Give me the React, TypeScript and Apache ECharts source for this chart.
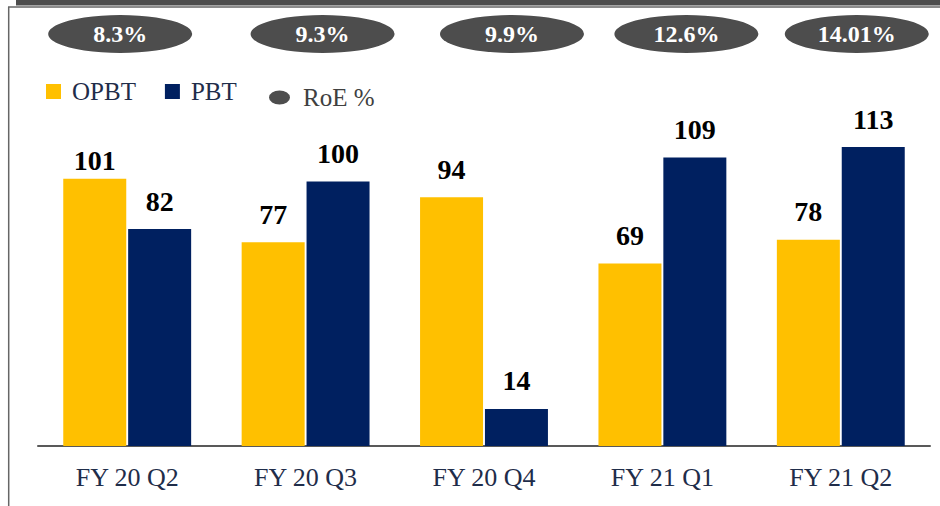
import React, { useEffect, useRef } from "react";
import * as echarts from "echarts";

const categories = ["FY 20 Q2", "FY 20 Q3", "FY 20 Q4", "FY 21 Q1", "FY 21 Q2"];
const opbt = [101, 77, 94, 69, 78];
const pbt = [82, 100, 14, 109, 113];
const roe = [8.3, 9.3, 9.9, 12.6, 14.01];
// horizontal nudges of the RoE ellipses relative to category centres (px)
const roeOffsets = [-7, 17, 28, 24, 16];

const SERIF = "'Liberation Serif', 'DejaVu Serif', serif";

export default function App() {
  const ref = useRef<HTMLDivElement>(null);
  useEffect(() => {
    if (!ref.current) return;
    const chart = echarts.init(ref.current, null, { renderer: "svg" });
    const barLabel = {
      show: true,
      position: "top" as const,
      distance: 14,
      color: "#000",
      fontFamily: SERIF,
      fontWeight: "bold" as const,
      fontSize: 28,
    };
    chart.setOption({
      animation: false,
      backgroundColor: "#fff",
      grid: [
        { left: 38, right: 10, top: 128.5, bottom: 60 },
        { left: 38, right: 10, top: 15, height: 38 },
      ],
      xAxis: [
        {
          type: "category",
          data: categories,
          gridIndex: 0,
          axisLine: { show: true, lineStyle: { color: "#595959", width: 2 } },
          axisTick: { show: false },
          axisLabel: {
            color: "#1F2D4A",
            fontFamily: SERIF,
            fontSize: 26,
            margin: 18,
          },
        },
        { type: "category", data: categories, gridIndex: 1, show: false },
      ],
      yAxis: [
        { type: "value", gridIndex: 0, min: 0, max: 120, show: false, splitLine: { show: false } },
        { type: "value", gridIndex: 1, min: -1, max: 1, show: false, splitLine: { show: false } },
      ],
      legend: [
        {
          data: ["OPBT", "PBT"],
          left: 46,
          top: 79,
          padding: 0,
          itemWidth: 15,
          itemHeight: 15,
          itemGap: 29,
          icon: "rect",
          textStyle: {
            color: "#1F2D4A",
            fontFamily: SERIF,
            fontSize: 25,
            padding: [0, 0, 0, 6],
          },
        },
        {
          data: [
            {
              name: "RoE %",
              icon: "path://M0,7 A10.5,7 0 1,1 21,7 A10.5,7 0 1,1 0,7 Z",
              itemStyle: { color: "#4D4D4D", opacity: 1 },
            },
          ],
          left: 269,
          top: 85,
          padding: 0,
          itemWidth: 21,
          itemHeight: 14,
          textStyle: {
            color: "#404040",
            fontFamily: SERIF,
            fontSize: 25,
            padding: [0, 0, 0, 8],
          },
        },
      ],
      series: [
        {
          name: "OPBT",
          type: "bar",
          xAxisIndex: 0,
          yAxisIndex: 0,
          barWidth: 63,
          barGap: "3%",
          itemStyle: { color: "#FFC000" },
          label: barLabel,
          data: opbt.map((v, i) =>
            i === 0 ? { value: v, label: { distance: 4 } } : v
          ),
        },
        {
          name: "PBT",
          type: "bar",
          xAxisIndex: 0,
          yAxisIndex: 0,
          barWidth: 63,
          barGap: "3%",
          itemStyle: { color: "#002060" },
          label: barLabel,
          data: pbt,
        },
        {
          name: "RoE %",
          type: "scatter",
          xAxisIndex: 1,
          yAxisIndex: 1,
          symbol: "circle",
          symbolSize: [144, 38],
          itemStyle: { color: "#4D4D4D", opacity: 1 },
          label: {
            show: true,
            position: "inside",
            color: "#fff",
            fontFamily: SERIF,
            fontWeight: "bold",
            fontSize: 24,
            formatter: (p: any) => `${p.value[2]}%`,
          },
          data: roe.map((v, i) => ({
            value: [categories[i], 0, v],
            symbolOffset: [roeOffsets[i], 0],
          })),
        },
      ],
      graphic: [
        { type: "rect", shape: { x: 16, y: 0, width: 924, height: 5.5 }, style: { fill: "#4D4D4D" } },
        { type: "line", shape: { x1: 8, y1: 7, x2: 940, y2: 7 }, style: { stroke: "#666", lineWidth: 1.5 } },
        { type: "line", shape: { x1: 8.7, y1: 7, x2: 8.7, y2: 506 }, style: { stroke: "#666", lineWidth: 1.5 } },
      ],
    });
    return () => chart.dispose();
  }, []);
  return (
    <div
      ref={ref}
      style={{ position: "fixed", left: 0, top: 0, width: 940, height: 506 }}
    />
  );
}
